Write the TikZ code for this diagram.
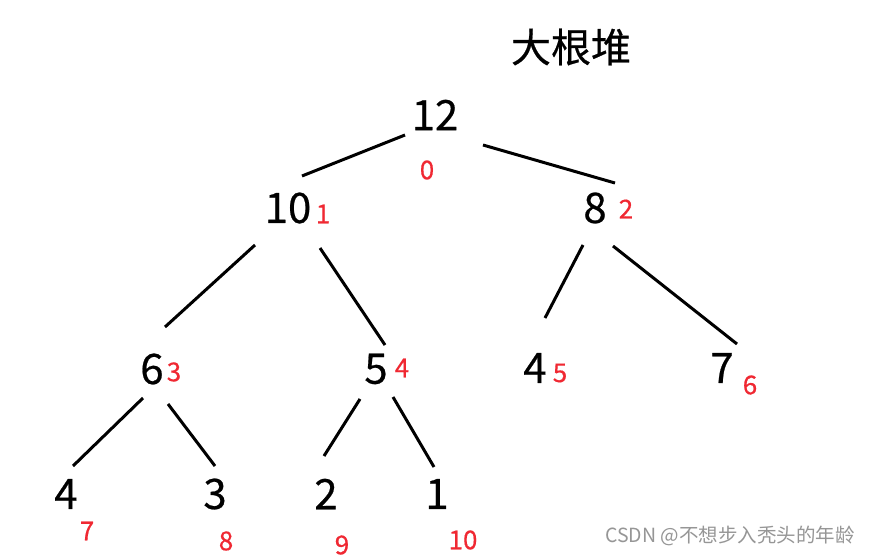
\documentclass[tikz,border=0pt]{standalone}
\usepackage{fontspec}
\setmainfont{Noto Sans CJK SC}[FakeBold=0.5]
\newfontfamily\wmfont{Noto Sans CJK SC}
\definecolor{idxred}{RGB}{240,40,50}
\definecolor{wmgray}{RGB}{150,150,150}
\begin{document}
\begin{tikzpicture}[x=1pt,y=-1pt,
  val/.style={inner sep=0pt,font=\fontsize{42}{42}\selectfont},
  idx/.style={inner sep=0pt,text=idxred,font=\fontsize{26}{26}\selectfont},
  edge/.style={line width=3pt}]
\useasboundingbox[fill=white] (0,0) rectangle (872,556);
\node[inner sep=0pt,font=\fontsize{40}{40}\selectfont] (title) at (571,47) {大根堆};
% values
\node[val] (n0) at (435,115) {12};
\node[val] (n1) at (288,208) {10};
\node[val] (n2) at (595,208) {8};
\node[val] (n3) at (152,369) {6};
\node[val] (n4) at (376,369) {5};
\node[val] (n5) at (535,368) {4};
\node[val] (n6) at (722,368) {7};
\node[val] (n7) at (66,494) {4};
\node[val] (n8) at (215,494) {3};
\node[val] (n9) at (326,494) {2};
\node[val] (n10) at (437,494) {1};
% indices
\node[idx] (i0) at (427,170) {0};
\node[idx] (i1) at (323,214) {1};
\node[idx] (i2) at (626,209) {2};
\node[idx] (i3) at (174,372) {3};
\node[idx] (i4) at (402,368) {4};
\node[idx] (i5) at (560,373) {5};
\node[idx] (i6) at (750,385) {6};
\node[idx] (i7) at (87,531) {7};
\node[idx] (i8) at (226,541) {8};
\node[idx] (i9) at (342,545) {9};
\node[idx] (i10) at (463,540) {10};
% connector end points
\coordinate (a0l) at (405,135); \coordinate (a1t) at (302,176);
\coordinate (a0r) at (483,145); \coordinate (a2t) at (615,183);
\coordinate (a1l) at (255,245); \coordinate (a3t) at (165,327);
\coordinate (a1r) at (320,248); \coordinate (a4t) at (385,345);
\coordinate (a2l) at (583,245); \coordinate (a5t) at (545,318);
\coordinate (a2r) at (613,246); \coordinate (a6t) at (737,344);
\coordinate (a3l) at (143,398); \coordinate (a7t) at (73,466);
\coordinate (a3r) at (168,404); \coordinate (a8t) at (215,466);
\coordinate (a4l) at (360,399); \coordinate (a9t) at (324,456);
\coordinate (a4r) at (393,397); \coordinate (a10t) at (434,467);
\draw[edge] (a0l) -- (a1t);
\draw[edge] (a0r) -- (a2t);
\draw[edge] (a1l) -- (a3t);
\draw[edge] (a1r) -- (a4t);
\draw[edge] (a2l) -- (a5t);
\draw[edge] (a2r) -- (a6t);
\draw[edge] (a3l) -- (a7t);
\draw[edge] (a3r) -- (a8t);
\draw[edge] (a4l) -- (a9t);
\draw[edge] (a4r) -- (a10t);
\node[inner sep=0pt,text=wmgray,font=\wmfont\fontsize{19.5}{19.5}\selectfont] (wm) at (730,536) {CSDN @不想步入秃头的年龄};
\end{tikzpicture}
\end{document}
